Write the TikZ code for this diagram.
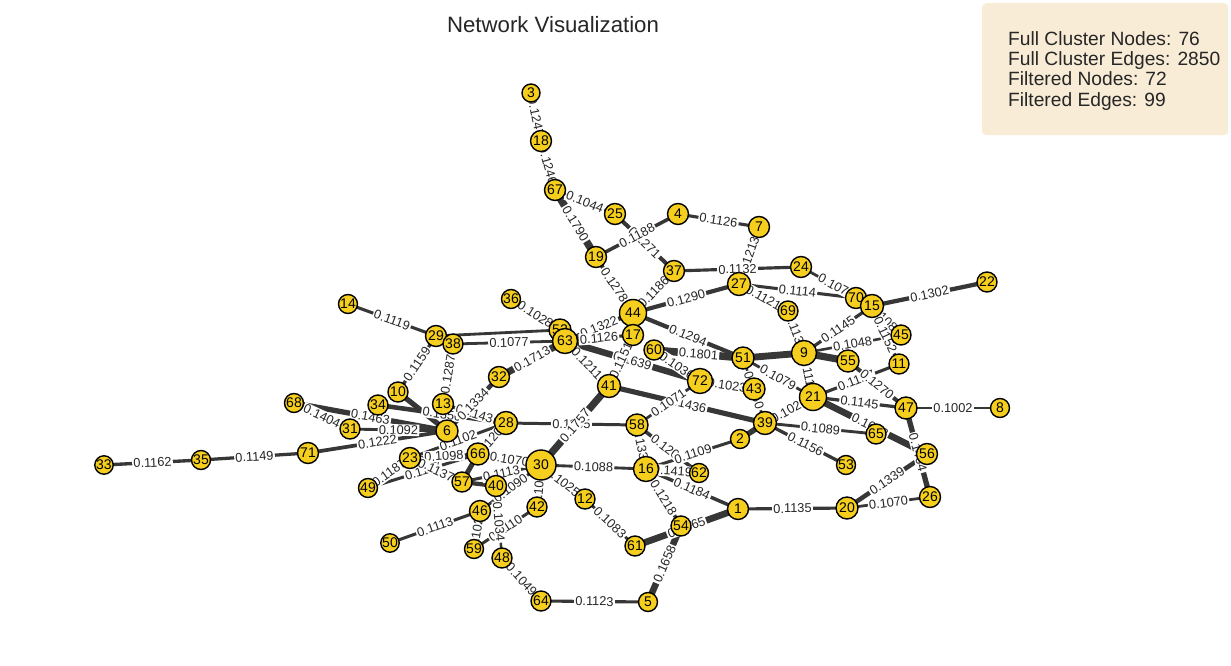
\documentclass[tikz,border=0pt]{standalone}
\usepackage{fontspec}
\setmainfont{Liberation Sans}
\pgfdeclarelayer{bg}
\pgfdeclarelayer{mid}
\pgfsetlayers{bg,mid,main}
\definecolor{nodefill}{RGB}{245,206,30}
\definecolor{edgecol}{RGB}{55,55,55}
\definecolor{legfill}{RGB}{248,236,214}
\definecolor{txtcol}{RGB}{38,38,38}
\tikzset{
  nd/.style={circle,draw=black,line width=1.4pt,fill=nodefill,inner sep=0pt,minimum size=21pt,font=\fontsize{14}{14}\selectfont},
  lbl/.style={sloped,midway,fill=white,inner sep=1.2pt,font=\fontsize{12.8}{12.8}\selectfont,text=txtcol},
  edgeline/.style={draw=edgecol,line cap=butt},
}
\newcommand\N[4]{\node[nd,minimum size=#4pt] (v#1) at (#2,#3) {#1};}
\newcommand\edg[3]{%
  \begin{pgfonlayer}{bg}\pgfmathsetmacro\lw{2.3+(#3-0.1)*65}\draw[edgeline,line width=\lw pt] (v#1.center) -- (v#2.center);\end{pgfonlayer}%
  \begin{pgfonlayer}{mid}\path (v#1.center) -- node[lbl]{#3} (v#2.center);\end{pgfonlayer}}
\newcommand\edh[3]{%
  \begin{pgfonlayer}{bg}\pgfmathsetmacro\lw{2.3+(#3-0.1)*65}\draw[edgeline,line width=\lw pt] (v#1.center) -- (v#2.center);\end{pgfonlayer}}
\begin{document}
\begin{tikzpicture}[x=1pt,y=-1pt]
\useasboundingbox (0,0) rectangle (1231,666);
\begin{pgfonlayer}{bg}\fill[white] (0,0) rectangle (1231,666);\end{pgfonlayer}
% nodes
\N{3}{531}{93}{18}
\N{18}{541}{141}{21}
\N{67}{555}{190}{21}
\N{25}{615}{214}{21}
\N{4}{678}{214}{21}
\N{7}{759}{227}{21}
\N{19}{596}{257}{21}
\N{37}{674}{271}{21}
\N{24}{801}{267}{21}
\N{27}{739}{284}{23}
\N{70}{856}{298}{21}
\N{15}{872}{306}{23}
\N{22}{987}{282}{20}
\N{69}{788}{311}{20}
\N{45}{901}{335}{20}
\N{11}{899}{364}{20}
\N{55}{848}{361}{22}
\N{9}{804}{353}{25}
\N{51}{743}{358}{22}
\N{36}{511}{299}{19}
\N{52}{560}{330}{22}
\N{63}{565}{341}{25}
\N{44}{633}{313}{27}
\N{17}{633}{335}{21}
\N{60}{654}{350}{20}
\N{72}{700}{381}{25}
\N{43}{754}{389}{22}
\N{41}{609}{386}{23}
\N{39}{765}{423}{23}
\N{21}{813}{397}{27}
\N{47}{906}{408}{22}
\N{8}{1000}{408}{19}
\N{65}{876}{434}{20}
\N{56}{927}{454}{21}
\N{26}{930}{497}{21}
\N{20}{847}{508}{22}
\N{53}{846}{465}{19}
\N{2}{740}{439}{19}
\N{1}{738}{509}{21}
\N{62}{699}{473}{19}
\N{16}{646}{469}{25}
\N{58}{637}{425}{22}
\N{30}{541}{465}{30}
\N{12}{585}{499}{20}
\N{42}{537}{507}{20}
\N{54}{681}{526}{20}
\N{61}{635}{546}{20}
\N{5}{648}{602}{19}
\N{64}{541}{601}{20}
\N{48}{502}{558}{20}
\N{59}{474}{549}{19}
\N{46}{480}{511}{21}
\N{40}{496}{486}{21}
\N{57}{462}{482}{20}
\N{66}{478}{454}{22}
\N{28}{506}{423}{23}
\N{6}{447}{431}{22}
\N{13}{443}{404}{21}
\N{32}{499}{377}{21}
\N{10}{398}{392}{20}
\N{34}{378}{405}{20}
\N{29}{436}{336}{21}
\N{38}{453}{344}{20}
\N{14}{348}{304}{19}
\N{68}{294}{403}{19}
\N{31}{350}{429}{20}
\N{71}{308}{453}{21}
\N{23}{410}{458}{21}
\N{49}{368}{488}{19}
\N{35}{201}{460}{19}
\N{33}{104}{465}{18}
\N{50}{390}{543}{18}
% edges
\edg{3}{18}{0.1247}
\edg{18}{67}{0.1246}
\edg{67}{25}{0.1044}
\edg{67}{19}{0.1790}
\edg{25}{37}{0.1271}
\edg{19}{4}{0.1188}
\edg{4}{7}{0.1126}
\edg{7}{27}{0.1213}
\edg{37}{24}{0.1132}
\edg{19}{44}{0.1278}
\edg{37}{44}{0.1186}
\edg{44}{27}{0.1290}
\edg{27}{70}{0.1114}
\edg{24}{15}{0.1075}
\edg{27}{69}{0.1121}
\edg{69}{9}{0.1132}
\edg{15}{22}{0.1302}
\edg{15}{45}{0.1085}
\edg{15}{11}{0.1152}
\edg{9}{15}{0.1145}
\edg{9}{45}{0.1048}
\edh{9}{55}{0.1750}
\edg{60}{51}{0.1801}
\edh{51}{9}{0.1700}
\edg{44}{51}{0.1294}
\edg{63}{44}{0.1322}
\edg{63}{17}{0.1126}
\edg{63}{72}{0.1639}
\edg{60}{72}{0.1036}
\edg{63}{41}{0.1211}
\edg{32}{63}{0.1713}
\edg{38}{63}{0.1077}
\edh{29}{52}{0.1080}
\edg{36}{52}{0.1028}
\edg{14}{29}{0.1119}
\edg{29}{10}{0.1159}
\edg{38}{13}{0.1287}
\edg{68}{31}{0.1404}
\edg{68}{6}{0.1463}
\edg{31}{6}{0.1092}
\edh{10}{6}{0.1450}
\edg{34}{28}{0.1350}
\edg{71}{6}{0.1222}
\edg{35}{71}{0.1149}
\edg{33}{35}{0.1162}
\edg{23}{49}{0.1187}
\edg{49}{66}{0.1117}
\edg{23}{66}{0.1098}
\edg{23}{28}{0.1102}
\edg{23}{57}{0.1137}
\edh{66}{57}{0.1400}
\edh{57}{40}{0.1300}
\edg{66}{30}{0.1070}
\edg{57}{30}{0.1113}
\edg{46}{30}{0.1090}
\edg{30}{42}{0.1030}
\edg{30}{12}{0.1025}
\edg{12}{61}{0.1083}
\edg{30}{16}{0.1088}
\edg{28}{58}{0.1105}
\edg{30}{41}{0.1757}
\edg{41}{39}{0.1436}
\edg{58}{72}{0.1071}
\edg{58}{62}{0.1209}
\edg{58}{16}{0.1337}
\edg{16}{62}{0.1419}
\edg{2}{16}{0.1109}
\edg{16}{1}{0.1184}
\edg{16}{54}{0.1218}
\edg{61}{1}{0.1665}
\edg{54}{5}{0.1658}
\edg{64}{5}{0.1123}
\edg{48}{64}{0.1049}
\edg{59}{42}{0.1110}
\edg{46}{59}{0.1027}
\edg{46}{50}{0.1113}
\edg{40}{48}{0.1034}
\edh{39}{2}{0.1500}
\edg{39}{21}{0.1028}
\edg{39}{65}{0.1089}
\edg{39}{53}{0.1156}
\edg{51}{39}{0.1050}
\edg{72}{43}{0.1023}
\edg{51}{21}{0.1079}
\edg{9}{21}{0.1118}
\edg{21}{47}{0.1145}
\edg{21}{11}{0.1127}
\edg{21}{56}{0.1648}
\edg{55}{47}{0.1270}
\edg{47}{8}{0.1002}
\edg{47}{26}{0.1464}
\edg{56}{20}{0.1339}
\edg{20}{26}{0.1070}
\edg{1}{20}{0.1135}
\edg{13}{28}{0.1143}
\edg{32}{6}{0.1334}
\edg{66}{28}{0.1203}
\edg{17}{41}{0.1151}
\edh{44}{17}{0.1100}
% title and legend
\node[font=\fontsize{22.2}{22.2}\selectfont,text=txtcol] (title) at (553,25) {Network Visualization};
\node[fill=legfill,rounded corners=4pt,minimum width=246pt,minimum height=132pt,anchor=north west,inner sep=0pt] (leg) at (982,3) {};
\node[anchor=north west,align=left,inner sep=0pt,text=txtcol,font=\fontsize{19.2}{20.3}\selectfont] (legtxt) at (1008,31) {Full Cluster Nodes: 76\\Full Cluster Edges: 2850\\Filtered Nodes: 72\\Filtered Edges: 99};
\end{tikzpicture}
\end{document}
